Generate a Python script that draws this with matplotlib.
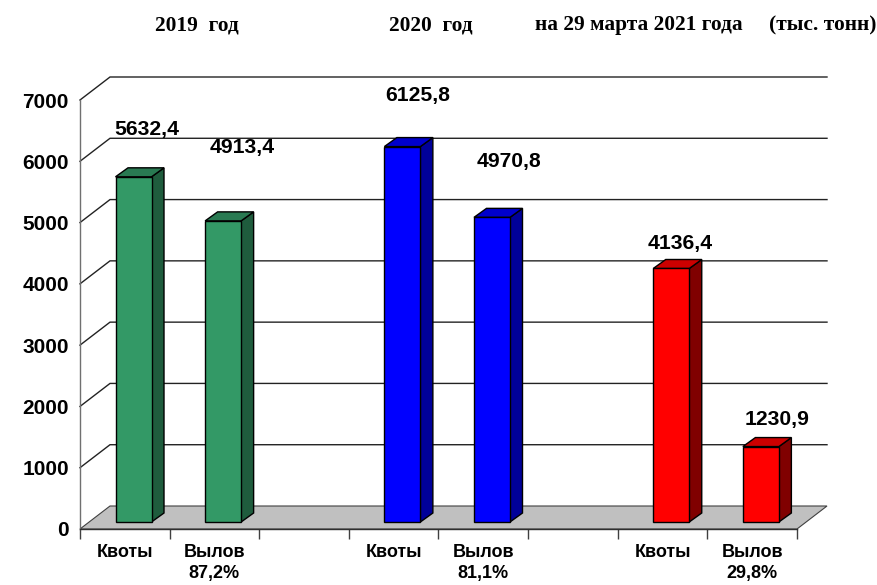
import matplotlib
matplotlib.use("Agg")
import matplotlib.pyplot as plt
from matplotlib.patches import Polygon

# Data
bar_slots = [0, 1, 3, 4, 6, 7]
values = [5632.4, 4913.4, 6125.8, 4970.8, 4136.4, 1230.9]
value_labels = ["5632,4", "4913,4", "6125,8", "4970,8", "4136,4", "1230,9"]
tick_labels = ["Квоты", "Вылов\n87,2%", "", "Квоты", "Вылов\n81,1%", "", "Квоты", "Вылов\n29,8%"]
y_ticks = [0, 1000, 2000, 3000, 4000, 5000, 6000, 7000]

# Style
W, H = 878, 585
face = ["#339966", "#339966", "#0000FF", "#0000FF", "#FF0000", "#FF0000"]
top = ["#297A52", "#297A52", "#0000CC", "#0000CC", "#CC0000", "#CC0000"]
side = ["#1F5C3D", "#1F5C3D", "#000099", "#000099", "#800000", "#800000"]
label_px = [(147, 130), (242, 148), (418, 96), (509, 162), (680, 243), (777, 420)]
titles = [(196.5, "2019  год"), (431, "2020  год"), (639, "на 29 марта 2021 года"), (823, "(тыс. тонн)")]
SANS, SERIF = "Liberation Sans", "Liberation Serif"

fig = plt.figure(figsize=(W / 100, H / 100), dpi=100)
L, R, B, T = 80, 797, 529, 100
ax = fig.add_axes([L / W, 1 - B / H, (R - L) / W, (B - T) / H])
ax.set_xlim(0, 8)
ax.set_ylim(0, 7000)
ax.patch.set_visible(False)

ux = (R - L) / 8          # px per category
uy = (B - T) / 7000       # px per unit
wall_dx, wall_dy = 30 / ux, 23 / uy
bar_off, bar_w = 35.5 / ux, 36 / ux
bar_dx, bar_dy = 12.5 / ux, 9 / uy
base = 7 / uy

# Floor
ax.add_patch(Polygon([(0, 0), (8, 0), (8 + wall_dx, wall_dy), (wall_dx, wall_dy)],
                     closed=True, fc="#C0C0C0", ec="#404040", lw=0.8, clip_on=False, zorder=1))
# Gridlines
for v in y_ticks[1:]:
    ax.plot([0, wall_dx, 8 + wall_dx], [v, v + wall_dy, v + wall_dy],
            color="#222222", lw=1.0, clip_on=False, zorder=1, solid_joinstyle="miter")

# Bars
for slot, v, f, t, s in zip(bar_slots, values, face, top, side):
    x0 = slot + bar_off
    x1 = x0 + bar_w
    y0, y1 = base, base + v
    kw = dict(closed=True, ec="black", lw=1.0, clip_on=False, zorder=3, joinstyle="miter")
    ax.add_patch(Polygon([(x1, y0), (x1 + bar_dx, y0 + bar_dy), (x1 + bar_dx, y1 + bar_dy), (x1, y1)], fc=s, **kw))
    ax.add_patch(Polygon([(x0, y1), (x1, y1), (x1 + bar_dx, y1 + bar_dy), (x0 + bar_dx, y1 + bar_dy)], fc=t, **kw))
    ax.add_patch(Polygon([(x0, y0), (x1, y0), (x1, y1), (x0, y1)], fc=f, **kw))

# Axes
for sp in ("top", "right"):
    ax.spines[sp].set_visible(False)
ax.spines["left"].set_color("#707070")
ax.spines["left"].set_linewidth(1.0)
ax.spines["bottom"].set_color("#303030")
ax.spines["bottom"].set_linewidth(1.0)
ax.spines["left"].set_zorder(2)
ax.spines["bottom"].set_zorder(2)

ax.set_yticks(y_ticks)
ax.set_yticklabels([str(v) for v in y_ticks], fontfamily=SANS, fontweight="bold", fontsize=15, color="black")
ax.tick_params(axis="y", length=0, pad=8)
ax.set_xticks(range(9))
ax.set_xticklabels([])
ax.tick_params(axis="x", which="major", length=7, width=1, color="#404040")
ax.set_xticks([i + 0.5 for i in range(8)], minor=True)
ax.set_xticklabels(tick_labels, minor=True, fontfamily=SANS, fontweight="bold", fontsize=13,
                   color="black", linespacing=1.3)
ax.tick_params(axis="x", which="minor", length=0, pad=11)

# Value labels
for (px, py), s in zip(label_px, value_labels):
    fig.text(px / W, 1 - py / H, s, ha="center", va="center", fontfamily=SANS,
             fontweight="bold", fontsize=15.2, color="black")
# Titles
for px, s in titles:
    fig.text(px / W, 1 - 25 / H, s, ha="center", va="center", fontfamily=SERIF,
             fontweight="bold", fontsize=15.4, color="black")

fig.savefig("out.png", dpi=100)
